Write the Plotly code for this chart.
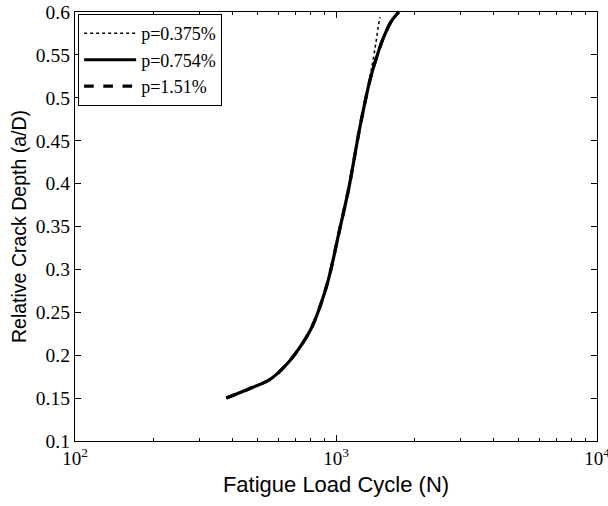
import plotly.graph_objects as go

# Data
n_0754 = [380, 475, 560, 650, 730, 800, 860, 935, 1030, 1120, 1235, 1350, 1440, 1520, 1620, 1740]
a_0754 = [0.150, 0.162, 0.172, 0.190, 0.210, 0.230, 0.253, 0.288, 0.345, 0.395, 0.466, 0.521, 0.550, 0.570, 0.588, 0.600]

n_0375 = [380, 475, 560, 650, 730, 800, 860, 935, 1030, 1120, 1235, 1340, 1390, 1425, 1452, 1475]
a_0375 = [0.150, 0.162, 0.172, 0.190, 0.210, 0.230, 0.253, 0.288, 0.345, 0.395, 0.466, 0.520, 0.546, 0.566, 0.583, 0.594]

n_151 = n_0754
a_151 = a_0754

x_major = [100, 1000, 10000]
x_major_text = ["10<sup>2</sup>", "10<sup>3</sup>", "10<sup>4</sup>"]
x_minor = [200, 300, 400, 500, 600, 700, 800, 900, 2000, 3000, 4000, 5000, 6000, 7000, 8000, 9000]
y_ticks = [0.1, 0.15, 0.2, 0.25, 0.3, 0.35, 0.4, 0.45, 0.5, 0.55, 0.6]
y_text = ["0.1", "0.15", "0.2", "0.25", "0.3", "0.35", "0.4", "0.45", "0.5", "0.55", "0.6"]

fig = go.Figure()
fig.add_trace(go.Scatter(x=n_0375, y=a_0375, mode="lines", name="p=0.375%",
                         line=dict(color="black", width=1.5, dash="dot", shape="spline", smoothing=1.0)))
fig.add_trace(go.Scatter(x=n_0754, y=a_0754, mode="lines", name="p=0.754%",
                         line=dict(color="black", width=3.2, shape="spline", smoothing=1.0)))
fig.add_trace(go.Scatter(x=n_151, y=a_151, mode="lines", name="p=1.51%",
                         line=dict(color="black", width=3.2, dash="dash", shape="spline", smoothing=1.0)))
# helper trace so the top axis (minor ticks on top frame) is drawn
fig.add_trace(go.Scatter(x=[100, 10000], y=[0.1, 0.1], mode="lines", xaxis="x2",
                         line=dict(width=0, color="rgba(0,0,0,0)"), showlegend=False, hoverinfo="skip"))

serif = "Liberation Serif, Times New Roman, serif"
sans = "Liberation Sans, Arial, sans-serif"

fig.update_layout(
    width=608, height=506,
    margin=dict(l=75, r=11, t=12, b=65),
    paper_bgcolor="white", plot_bgcolor="white",
    showlegend=True,
    legend=dict(x=0.006, y=0.995, xanchor="left", yanchor="top",
                bgcolor="white", bordercolor="black", borderwidth=1,
                font=dict(family=serif, size=18, color="black"),
                itemwidth=52, tracegroupgap=0),
    xaxis=dict(type="log", range=[2, 4], tickvals=x_major, ticktext=x_major_text,
               ticks="inside", ticklen=6, tickcolor="black", showgrid=False, zeroline=False,
               showline=True, linecolor="black", linewidth=1.3, mirror="ticks",
               automargin=False, ticklabeloverflow="allow",
               minor=dict(tickvals=x_minor, ticks="inside", ticklen=3, tickcolor="black", showgrid=False),
               tickfont=dict(family=serif, size=19, color="black"),
               title=dict(text="Fatigue Load Cycle (N)", font=dict(family=sans, size=22, color="black"),
                          standoff=8)),
    xaxis2=dict(type="log", range=[2, 4], overlaying="x", side="top", anchor="y",
                tickvals=x_minor, ticks="inside", ticklen=3, tickcolor="black",
                showticklabels=False, showgrid=False, zeroline=False, showline=False,
                automargin=False),
    yaxis=dict(range=[0.1, 0.6], tickvals=y_ticks, ticktext=y_text,
               ticks="inside", ticklen=6, tickcolor="black", showgrid=False, zeroline=False,
               showline=True, linecolor="black", linewidth=1.3, mirror="ticks",
               automargin=False,
               tickfont=dict(family=serif, size=19.5, color="black"),
               title=dict(text="Relative Crack Depth (a/D)", font=dict(family=sans, size=19.5, color="black"),
                          standoff=4)),
)

fig.write_html("out.html")
